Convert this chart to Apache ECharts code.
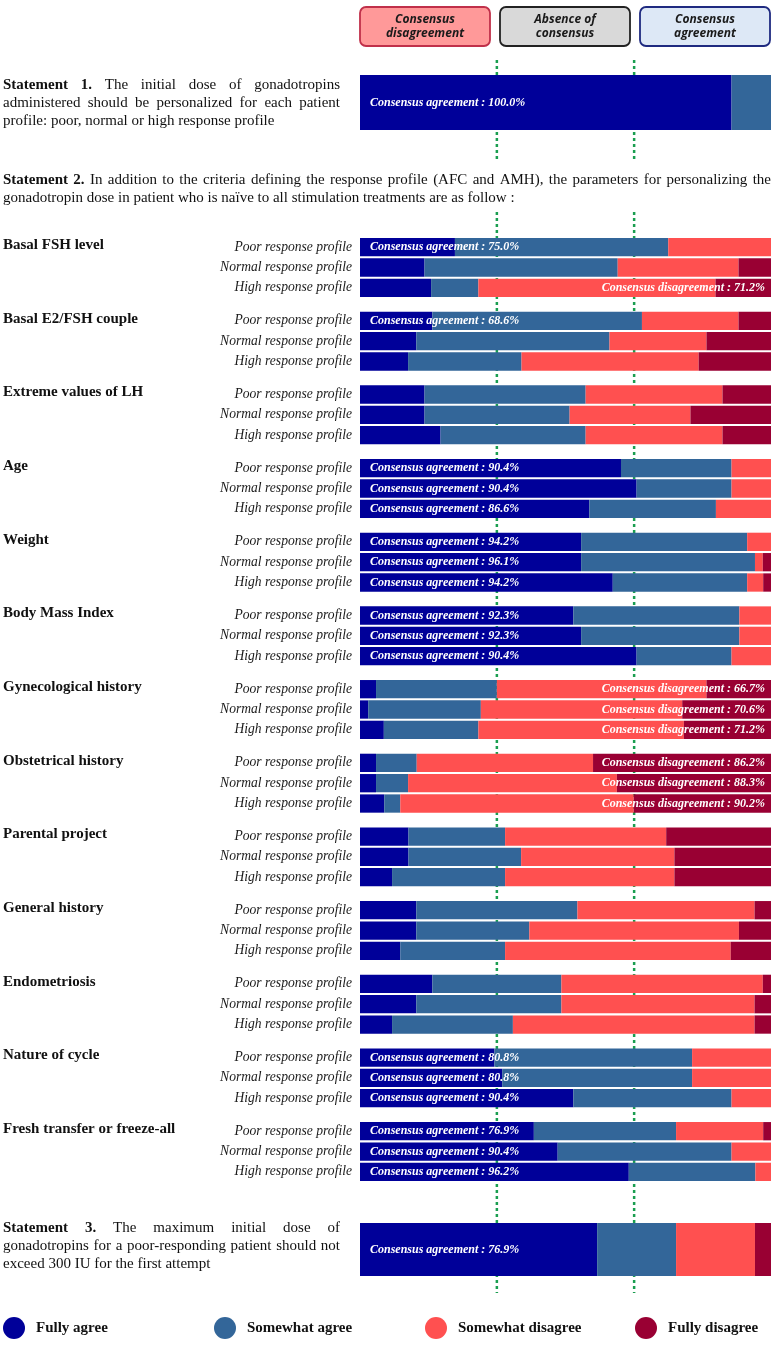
<!DOCTYPE html>
<html><head><meta charset="utf-8">
<script src="https://cdn.jsdelivr.net/npm/echarts@6/dist/echarts.min.js"></script>
<style>html,body{margin:0;padding:0;background:#fff}#c{width:778px;height:1353px}</style>
</head><body><div id="c"></div>
<script>
// ---------------- DATA ----------------
const seriesNames = ['Fully agree', 'Somewhat agree', 'Somewhat disagree', 'Fully disagree'];
const seriesColors = ['#000099', '#336699', '#ff5050', '#990033'];
const profiles = ['Poor response profile', 'Normal response profile', 'High response profile'];
const groupNames = ['Basal FSH level', 'Basal E2/FSH couple', 'Extreme values of LH', 'Age', 'Weight',
  'Body Mass Index', 'Gynecological history', 'Obstetrical history', 'Parental project',
  'General history', 'Endometriosis', 'Nature of cycle', 'Fresh transfer or freeze-all'];
// each entry: [poor, normal, high]
const fullyAgree = [
  [23.1, 15.7, 17.3], [17.6, 13.7, 11.7], [15.7, 15.7, 19.6], [63.5, 67.3, 55.8], [53.8, 53.8, 61.5],
  [51.9, 53.8, 67.3], [3.9, 2.0, 5.8], [3.9, 3.9, 5.9], [11.8, 11.8, 7.8], [13.7, 13.7, 9.8],
  [17.6, 13.7, 7.8], [32.7, 34.6, 51.9], [42.3, 48.1, 65.4]];
const somewhatAgree = [
  [51.9, 47.0, 11.5], [51.0, 47.0, 27.6], [39.2, 35.3, 35.3], [26.9, 23.1, 30.8], [40.4, 42.3, 32.7],
  [40.4, 38.5, 23.1], [29.4, 27.4, 23.0], [9.9, 7.8, 3.9], [23.5, 27.4, 27.5], [39.2, 27.5, 25.5],
  [31.4, 35.3, 29.4], [48.1, 46.2, 38.5], [34.6, 42.3, 30.8]];
const somewhatDisagree = [
  [25.0, 29.4, 57.7], [23.5, 23.6, 43.1], [33.3, 29.4, 33.3], [9.6, 9.6, 13.4], [5.8, 1.9, 3.9],
  [7.7, 7.7, 9.6], [51.0, 49.0, 50.0], [42.9, 50.8, 56.8], [39.2, 37.3, 41.2], [43.1, 51.0, 54.9],
  [49.0, 47.0, 58.8], [19.2, 19.2, 9.6], [21.2, 9.6, 3.8]];
const fullyDisagree = [
  [0, 7.9, 13.5], [7.9, 15.7, 17.6], [11.8, 19.6, 11.8], [0, 0, 0], [0, 2.0, 1.9],
  [0, 0, 0], [15.7, 21.6, 21.2], [43.3, 37.5, 33.4], [25.5, 23.5, 23.5], [4.0, 7.8, 9.8],
  [2.0, 4.0, 4.0], [0, 0, 0], [1.9, 0, 0]];
const statement1Values = [90.4, 9.6, 0, 0];
const statement3Values = [57.7, 19.2, 19.2, 3.9];
const consensusLines = [33.3, 66.7];
const consensusThreshold = 66.6;

const headerBoxes = [
  {text: 'Consensus\ndisagreement', fill: '#ff9999', stroke: '#c0304a'},
  {text: 'Absence of\nconsensus', fill: '#d9d9d9', stroke: '#222222'},
  {text: 'Consensus\nagreement', fill: '#dde8f6', stroke: '#1f2a80'}
];
const statement1Lines = [
  {bold: 'Statement 1.', text: 'The initial dose of gonadotropins', justify: true},
  {bold: '', text: 'administered should be personalized for each patient', justify: true},
  {bold: '', text: 'profile: poor, normal or high response profile', justify: false}];
const statement2Lines = [
  {bold: 'Statement 2.', text: 'In addition to the criteria defining the response profile (AFC and AMH), the parameters for personalizing the', justify: true},
  {bold: '', text: 'gonadotropin dose in patient who is naïve to all stimulation treatments are as follow :', justify: false}];
const statement3Lines = [
  {bold: 'Statement 3.', text: 'The maximum initial dose of', justify: true},
  {bold: '', text: 'gonadotropins for a poor-responding patient should not', justify: true},
  {bold: '', text: 'exceed 300 IU for the first attempt', justify: false}];

// ---------------- LAYOUT ----------------
const GL = 360, GW = 411;
const SERIF = '"Liberation Serif", "Times New Roman", serif';
const chart = echarts.init(document.getElementById('c'), null, {renderer: 'canvas'});
const grids = [], xAxes = [], yAxes = [], series = [], graphics = [];

function labelItem(r) {
  const agree = r[0] + r[1], dis = r[2] + r[3];
  if (agree >= consensusThreshold) {
    return {value: 100, label: {show: true, position: 'insideLeft', distance: 10,
      formatter: 'Consensus agreement : ' + agree.toFixed(1) + '%'}};
  } else if (dis >= consensusThreshold) {
    return {value: 100, label: {show: true, position: 'insideRight', distance: 6,
      formatter: 'Consensus disagreement : ' + dis.toFixed(1) + '%'}};
  }
  return {value: 100};
}

function addBlock(top, height, cats, rows, showAxis) {
  const gi = grids.length;
  grids.push({left: GL, width: GW, top: top, height: height});
  xAxes.push({type: 'value', gridIndex: gi, min: 0, max: 100, show: false});
  yAxes.push({type: 'category', gridIndex: gi, data: cats, inverse: true,
    axisLine: {show: false}, axisTick: {show: false}, splitLine: {show: false},
    axisLabel: {show: showAxis, margin: 8, fontFamily: SERIF, fontStyle: 'italic', fontSize: 13.6, color: '#1a1a1a'}});
  const gap = cats.length > 1 ? '10%' : '0%';
  seriesNames.forEach((n, k) => series.push({
    type: 'bar', name: n, xAxisIndex: gi, yAxisIndex: gi, stack: 's' + gi,
    barCategoryGap: gap, barGap: '-100%', silent: true,
    itemStyle: {color: seriesColors[k]}, data: rows.map(r => r[k])}));
  series.push({type: 'bar', name: 'labels' + gi, xAxisIndex: gi, yAxisIndex: gi,
    barCategoryGap: gap, barGap: '-100%', z: 5, silent: true,
    itemStyle: {color: 'rgba(0,0,0,0)'},
    label: {color: '#ffffff', fontFamily: SERIF, fontStyle: 'italic', fontWeight: 'bold', fontSize: 12},
    data: rows.map(labelItem)});
}

// Statement 1
addBlock(75, 55, [''], [statement1Values], false);
// Groups
const G_TOP = 237, G_PITCH = 73.67, G_H = 61;
groupNames.forEach((g, i) => {
  const rows = [0, 1, 2].map(p => [fullyAgree[i][p], somewhatAgree[i][p], somewhatDisagree[i][p], fullyDisagree[i][p]]);
  addBlock(G_TOP + i * G_PITCH, G_H, profiles, rows, true);
  graphics.push({type: 'text', x: 3, y: G_TOP + i * G_PITCH + 8, z: 10,
    style: {text: g, font: 'bold 15px ' + SERIF, fill: '#111', verticalAlign: 'middle', textVerticalAlign: 'middle'}});
});
// Statement 3
addBlock(1223, 53, [''], [statement3Values], false);

// Header boxes
const boxX = [360, 500, 640];
headerBoxes.forEach((b, i) => {
  graphics.push({type: 'rect', x: boxX[i], y: 7, z: 10,
    shape: {width: 130, height: 39, r: 6},
    style: {fill: b.fill, stroke: b.stroke, lineWidth: 1.8}});
  graphics.push({type: 'text', x: boxX[i] + 65, y: 26.5, z: 11,
    style: {text: b.text, font: 'italic bold 12px "Open Sans", sans-serif', fill: '#1a1a1a',
      align: 'center', verticalAlign: 'middle', textAlign: 'center', textVerticalAlign: 'middle', lineHeight: 14}});
});

// Dotted consensus lines (behind bars)
consensusLines.forEach(v => {
  const x = GL + GW * v / 100;
  [[60, 162], [212, 1293]].forEach(seg => graphics.push({type: 'line', z: 0,
    shape: {x1: x, y1: seg[0], x2: x, y2: seg[1]},
    style: {stroke: '#1a9e50', lineWidth: 2.5, lineDash: [3, 3]}}));
});

// Justified statement text
const ctx = document.createElement('canvas').getContext('2d');
function measure(t, f) { ctx.font = f; return ctx.measureText(t).width; }
function addParagraph(lines, x0, x1, y0, lh, size) {
  const fN = size + 'px ' + SERIF, fB = 'bold ' + size + 'px ' + SERIF;
  lines.forEach((ln, li) => {
    const toks = [];
    if (ln.bold) ln.bold.split(' ').forEach(w => toks.push({t: w, f: fB}));
    ln.text.split(' ').forEach(w => toks.push({t: w, f: fN}));
    const ws = toks.map(k => measure(k.t, k.f));
    const tot = ws.reduce((a, b) => a + b, 0);
    const sp = ln.justify ? (x1 - x0 - tot) / (toks.length - 1) : measure(' ', fN);
    let x = x0;
    toks.forEach((k, i) => {
      graphics.push({type: 'text', x: x, y: y0 + li * lh, z: 10,
        style: {text: k.t, font: k.f, fill: '#111', verticalAlign: 'middle', textVerticalAlign: 'middle'}});
      x += ws[i] + sp;
    });
  });
}
addParagraph(statement1Lines, 3, 340, 85, 18, 15);
addParagraph(statement2Lines, 3, 771, 180, 18.5, 15);
addParagraph(statement3Lines, 3, 340, 1228, 18, 15);

const legendLeft = [3, 214, 425, 635];
const legends = seriesNames.map((n, i) => ({
  data: [n], left: legendLeft[i], top: 1317, padding: 0, itemWidth: 22, itemHeight: 26, selectedMode: false,
  icon: 'path://M50,0A50,50,0,1,1,50,100A50,50,0,1,1,50,0Z',
  textStyle: {fontFamily: SERIF, fontWeight: 'bold', fontSize: 15, color: '#111', padding: [0, 0, 0, 6]}
}));

chart.setOption({
  animation: false,
  backgroundColor: '#ffffff',
  grid: grids, xAxis: xAxes, yAxis: yAxes, series: series,
  legend: legends,
  graphic: {elements: graphics}
});
</script></body></html>
